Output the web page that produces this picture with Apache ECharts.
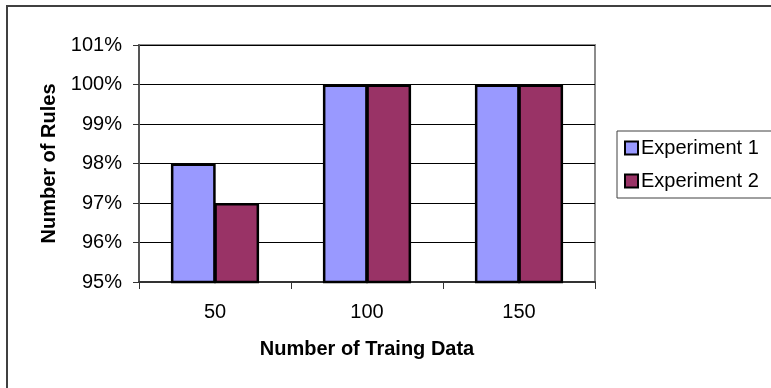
<!DOCTYPE html>
<html>
<head>
<meta charset="utf-8">
<script src="https://cdn.jsdelivr.net/npm/echarts@6/dist/echarts.min.js"></script>
<style>
  html, body { margin: 0; padding: 0; background: #fff; }
  #chart { width: 771px; height: 388px; }
</style>
</head>
<body>
<div id="chart"></div>
<script>
// Training-set sizes on the x axis
const categories = ['50', '100', '150'];
// Share of rules (percent) for each experiment
const experiment1 = [98, 100, 100];
const experiment2 = [97, 100, 100];
// Percent axis range
const yMin = 95;
const yMax = 101;
const yStep = 1;

const FONT = '"Liberation Sans", Arial, sans-serif';

const chart = echarts.init(document.getElementById('chart'), null, { renderer: 'canvas' });

chart.setOption({
  animation: false,
  backgroundColor: '#fff',
  graphic: [
    {
      type: 'rect',
      shape: { x: 7, y: 6, width: 900, height: 500 },
      style: { fill: 'none', stroke: '#404040', lineWidth: 2 },
      silent: true
    },
    {
      type: 'rect',
      shape: { x: 617, y: 131, width: 300, height: 67 },
      style: { fill: '#fff', stroke: '#404040', lineWidth: 1 },
      silent: true,
      z: 0
    }
  ],
  legend: {
    orient: 'vertical',
    left: 619,
    top: 133,
    itemWidth: 13,
    itemHeight: 13,
    itemGap: 13,
    icon: 'rect',
    textStyle: { fontFamily: FONT, fontSize: 20, color: '#000', padding: [0, 0, 0, -2] },
    data: ['Experiment 1', 'Experiment 2'],
    z: 5
  },
  grid: {
    left: 139,
    top: 45,
    right: 176,
    bottom: 106,
    show: true,
    backgroundColor: '#fff',
    borderColor: '#8c8c8c',
    borderWidth: 2
  },
  xAxis: {
    type: 'category',
    data: categories,
    name: 'Number of Traing Data',
    nameLocation: 'middle',
    nameGap: 57,
    nameTextStyle: { fontFamily: FONT, fontSize: 20, fontWeight: 'bold', color: '#000' },
    axisLine: { lineStyle: { color: '#333', width: 2 } },
    axisTick: { show: true, length: 7, lineStyle: { color: '#333', width: 1 } },
    axisLabel: { fontFamily: FONT, fontSize: 20, color: '#000', margin: 20 },
    splitLine: { show: false }
  },
  yAxis: {
    type: 'value',
    min: yMin,
    max: yMax,
    interval: yStep,
    name: 'Number of Rules',
    nameLocation: 'middle',
    nameGap: 80,
    nameTextStyle: { fontFamily: FONT, fontSize: 20, fontWeight: 'bold', color: '#000' },
    axisLine: { show: true, lineStyle: { color: '#555', width: 2 } },
    axisTick: { show: true, length: 6, lineStyle: { color: '#333', width: 1 } },
    axisLabel: { fontFamily: FONT, fontSize: 20, color: '#000', margin: 17, formatter: '{value}%' },
    splitLine: { show: true, lineStyle: { color: '#000', width: 1 } }
  },
  series: [
    {
      name: 'Experiment 1',
      type: 'bar',
      data: experiment1,
      barGap: '-3%',
      barCategoryGap: '42%',
      itemStyle: { color: '#9999FF', borderColor: '#000', borderWidth: 2.5 }
    },
    {
      name: 'Experiment 2',
      type: 'bar',
      data: experiment2,
      barGap: '-3%',
      barCategoryGap: '42%',
      itemStyle: { color: '#993366', borderColor: '#000', borderWidth: 2.5 }
    }
  ]
});
</script>
</body>
</html>
